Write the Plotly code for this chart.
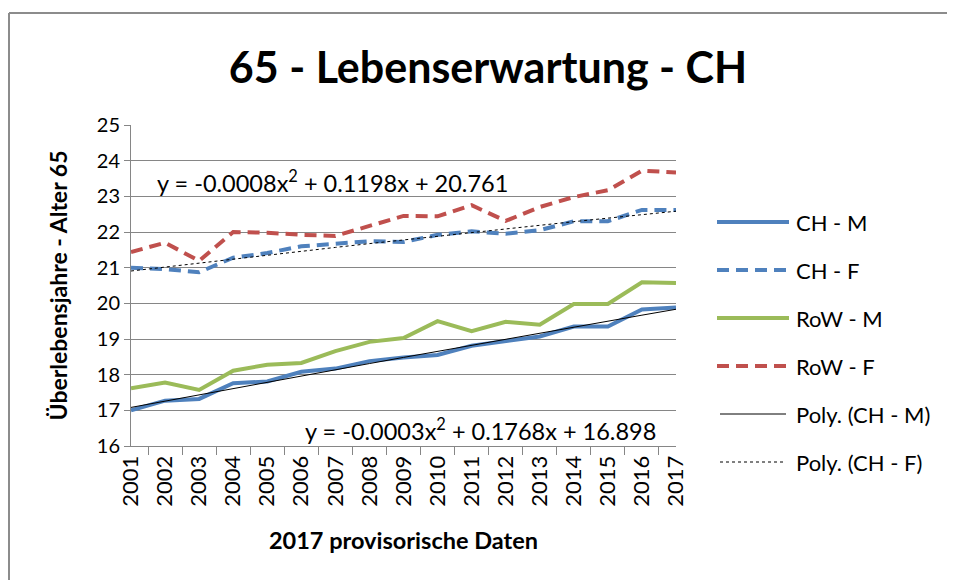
import numpy as np
import plotly.graph_objects as go

years = [str(y) for y in range(2001, 2018)]
ch_m = [17.00, 17.27, 17.32, 17.76, 17.81, 18.08, 18.17, 18.38, 18.48, 18.55, 18.81, 18.95, 19.07, 19.35, 19.35, 19.83, 19.88]
ch_f = [21.00, 20.96, 20.87, 21.28, 21.41, 21.60, 21.67, 21.74, 21.72, 21.92, 22.02, 21.95, 22.05, 22.30, 22.30, 22.62, 22.62]
row_m = [17.62, 17.78, 17.57, 18.11, 18.28, 18.33, 18.66, 18.92, 19.03, 19.50, 19.22, 19.48, 19.40, 19.98, 19.98, 20.59, 20.57]
row_f = [21.44, 21.70, 21.19, 22.00, 21.98, 21.92, 21.89, 22.17, 22.45, 22.44, 22.75, 22.31, 22.70, 22.98, 23.17, 23.72, 23.67]

eq_f = "y = -0.0008x<sup>2</sup> + 0.1198x + 20.761"
eq_m = "y = -0.0003x<sup>2</sup> + 0.1768x + 16.898"

# polynomial (order 2) trend lines, as Excel computes them
idx = np.arange(1, len(years) + 1)
trend_m = np.polyval(np.polyfit(idx, ch_m, 2), idx)
trend_f = np.polyval(np.polyfit(idx, ch_f, 2), idx)

FONT = "Lato"
BLUE = "#4F81BD"
GREEN = "#9BBB59"
RED = "#C0504D"
GRID = "#868686"
DASH = "12px,7px"

series = [
    ("CH - M", ch_m, dict(color=BLUE, width=4)),
    ("CH - F", ch_f, dict(color=BLUE, width=4, dash=DASH)),
    ("RoW - M", row_m, dict(color=GREEN, width=4)),
    ("RoW - F", row_f, dict(color=RED, width=4, dash=DASH)),
    ("Poly. (CH - M)", trend_m, dict(color="black", width=1)),
    ("Poly. (CH - F)", trend_f, dict(color="black", width=1, dash="3px,3px")),
]

fig = go.Figure()
for name, vals, ln in series:
    fig.add_trace(go.Scatter(x=years, y=vals, name=name, mode="lines", line=ln))

# page body has an 8px margin: figure is drawn 8px right / down
OFF = 8
W, H = 955 - OFF, 580 - OFF
L, R, T, B = 131 - OFF, 676 - OFF, 125 - OFF, 446 - OFF

def px(xp):
    return (xp - OFF - L) / (R - L)

def py(yp):
    return (B - (yp - OFF)) / (B - T)

BORDER = dict(color="#8C8C8C", width=2)
shapes = [
    dict(type="line", xref="paper", yref="paper", x0=px(9), x1=px(9),
         y0=py(660), y1=py(13), line=BORDER, layer="below"),
    dict(type="line", xref="paper", yref="paper", x0=px(9), x1=px(1000),
         y0=py(13), y1=py(13), line=BORDER, layer="below"),
]
annotations = [
    dict(text=eq_f, xref="paper", yref="paper", x=px(155), y=py(181),
         xanchor="left", yanchor="middle", showarrow=False,
         font=dict(family=FONT, size=23.5, color="black")),
    dict(text=eq_m, xref="paper", yref="paper", x=px(303), y=py(429),
         xanchor="left", yanchor="middle", showarrow=False,
         font=dict(family=FONT, size=23.5, color="black")),
]
# legend drawn by hand to match the long line samples of the original
for i, (name, vals, ln) in enumerate(series):
    yy = py(222 + 48 * i)
    thick = ln["width"] > 1
    shapes.append(dict(type="line", xref="paper", yref="paper",
                       x0=px(717 if thick else 720), x1=px(789 if thick else 786),
                       y0=yy, y1=yy, line=ln))
    annotations.append(dict(text=name, xref="paper", yref="paper", x=px(794), y=yy,
                            xanchor="left", yanchor="middle", showarrow=False,
                            font=dict(family=FONT, size=22, color="black")))

fig.update_layout(
    width=W, height=H,
    margin=dict(l=L, r=W - R, t=T, b=H - B),
    paper_bgcolor="white", plot_bgcolor="white",
    font=dict(family=FONT, size=20, color="black"),
    title=dict(text="<b>65 - Lebenserwartung - CH</b>", x=(488 - OFF) / W, xanchor="center",
               y=1 - (68 - OFF) / H, yanchor="middle", xref="container", yref="container",
               font=dict(family=FONT, size=43, color="black")),
    showlegend=False,
    xaxis=dict(
        type="category", tickson="boundaries", ticks="outside", ticklen=8,
        tickcolor=GRID, showline=True, linecolor=GRID, linewidth=1,
        showgrid=False, tickangle=-90, tickfont=dict(size=22),
        title=dict(text="<b>2017 provisorische Daten</b>", font=dict(size=23.5), standoff=26),
    ),
    yaxis=dict(
        range=[16, 25], dtick=1, ticks="outside", ticklen=6, tickcolor=GRID,
        showline=True, linecolor=GRID, linewidth=1, showgrid=True,
        gridcolor=GRID, gridwidth=1, zeroline=False, tickfont=dict(size=20),
        title=dict(text="<b>Überlebensjahre - Alter 65</b>", font=dict(size=23), standoff=22),
    ),
    annotations=annotations,
    shapes=shapes,
)

fig.write_html("out.html")
